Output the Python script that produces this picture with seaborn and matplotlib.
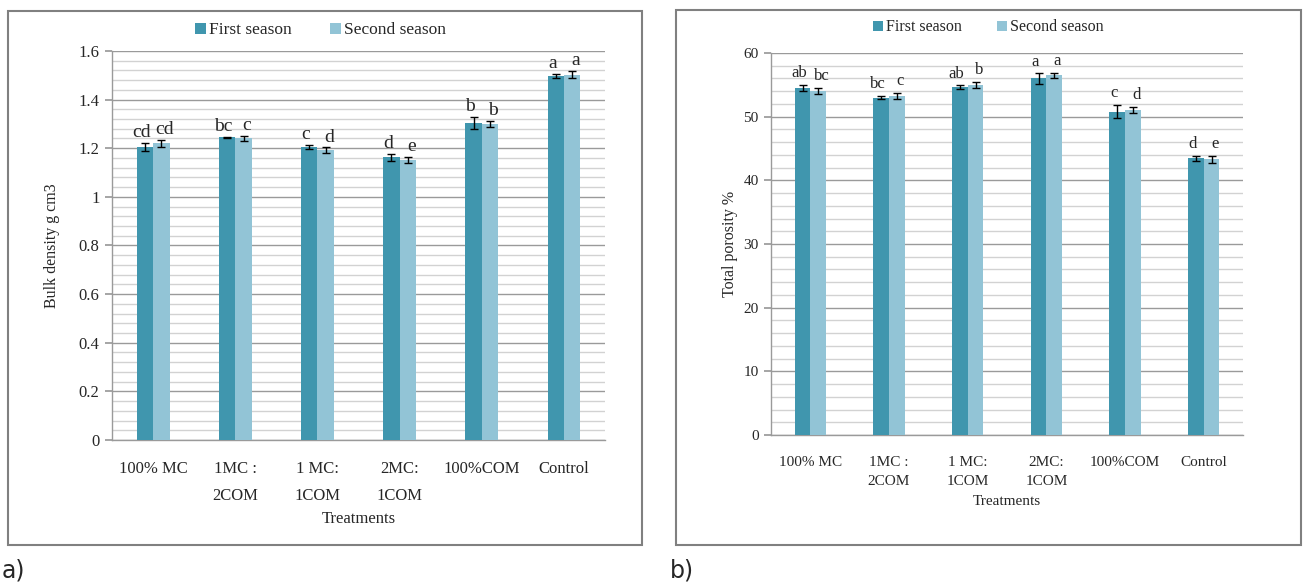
import numpy as np
import pandas as pd
import matplotlib
matplotlib.use("Agg")
import matplotlib.pyplot as plt
from matplotlib.patches import Rectangle
from matplotlib.ticker import MultipleLocator
import seaborn as sns

sns.set_theme(style="white")
plt.rcParams['font.family'] = ['Liberation Serif', 'DejaVu Serif']

# data
treatments = ["100% MC", "1MC :\n2COM", "1 MC:\n1COM", "2MC:\n1COM", "100%COM", "Control"]
seasons = ["First season", "Second season"]

bulk_first = [1.205, 1.245, 1.205, 1.162, 1.305, 1.497]
bulk_second = [1.220, 1.241, 1.192, 1.152, 1.300, 1.502]
bulk_err_first = [0.015, 0.002, 0.010, 0.013, 0.025, 0.010]
bulk_err_second = [0.014, 0.010, 0.011, 0.011, 0.011, 0.015]
bulk_letters_first = ["cd", "bc", "c", "d", "b", "a"]
bulk_letters_second = ["cd", "c", "d", "e", "b", "a"]

por_first = [54.5, 53.0, 54.6, 56.0, 50.8, 43.5]
por_second = [54.0, 53.2, 55.0, 56.5, 51.0, 43.3]
por_err_first = [0.5, 0.2, 0.3, 0.8, 1.0, 0.4]
por_err_second = [0.5, 0.5, 0.5, 0.4, 0.5, 0.6]
por_letters_first = ["ab", "bc", "ab", "a", "c", "d"]
por_letters_second = ["bc", "c", "b", "a", "d", "e"]

colors = ["#4096AE", "#92C4D6"]


def long_df(first, second):
    return pd.DataFrame({
        "Treatment": treatments * 2,
        "Season": [seasons[0]] * 6 + [seasons[1]] * 6,
        "value": list(first) + list(second),
    })


def draw_panel(ax, first, second, err1, err2, let1, let2, ymax, major, minor,
               ylabel, fs, ylab_fs, ylab_pad, letter_fs, letter_off, lsp,
               leg_fs, leg_anchor, fmt):
    df = long_df(first, second)
    sns.barplot(data=df, x="Treatment", y="value", hue="Season",
                palette=colors, width=0.4, errorbar=None, saturation=1,
                linewidth=0, ax=ax, zorder=3)
    bar_groups = list(ax.containers[:2])
    errs = [err1, err2]
    vals = [first, second]
    lets = [let1, let2]
    shift = [-0.04, 0.04]
    for i, cont in enumerate(bar_groups):
        for j, bar in enumerate(cont):
            xc = bar.get_x() + bar.get_width() / 2
            ax.errorbar(xc, vals[i][j], yerr=errs[i][j], color="black",
                        capsize=3, elinewidth=1, capthick=1, zorder=4)
            ax.text(xc + shift[i], vals[i][j] + errs[i][j] + letter_off, lets[i][j],
                    ha="center", va="bottom", fontsize=letter_fs, zorder=5)
    ax.set_ylim(0, ymax)
    ax.set_xlim(-0.5, 5.5)
    ax.yaxis.set_major_locator(MultipleLocator(major))
    ax.yaxis.set_minor_locator(MultipleLocator(minor))
    ax.yaxis.set_major_formatter(plt.FuncFormatter(fmt))
    ax.grid(True, which="major", axis="y", color="#9A9A9A", lw=1.0, zorder=0)
    ax.grid(True, which="minor", axis="y", color="#D2D2D2", lw=1.0, zorder=0)
    ax.set_axisbelow(True)
    for s in ["top", "right"]:
        ax.spines[s].set_visible(False)
    for s in ["left", "bottom"]:
        ax.spines[s].set_color("#9A9A9A")
        ax.spines[s].set_linewidth(1.0)
    ax.tick_params(axis="y", which="major", left=True, length=5, color="#9A9A9A",
                   labelsize=fs, pad=4)
    ax.tick_params(axis="y", which="minor", left=False)
    ax.tick_params(axis="x", bottom=False, labelsize=fs, pad=9)
    ax.set_xticks(range(6))
    ax.set_xticklabels(treatments, linespacing=lsp)
    ax.set_xlabel("Treatments", fontsize=fs, labelpad=5)
    ax.set_ylabel(ylabel, fontsize=ylab_fs, labelpad=ylab_pad)
    ax.set_facecolor("white")
    handles, labels = ax.get_legend_handles_labels()
    ax.legend(handles, labels, loc="center", bbox_to_anchor=leg_anchor,
              bbox_transform=ax.figure.transFigure,
              ncol=2, frameon=False, fontsize=leg_fs, handlelength=0.6,
              handleheight=0.6, handletextpad=0.2, columnspacing=2.2)


fig = plt.figure(figsize=(13.06, 5.85), dpi=100)

# panel frames
fig.patches.append(Rectangle((0.0061, 0.0684), 0.4855, 0.913, transform=fig.transFigure,
                             fill=False, edgecolor="#808080", lw=1.5, zorder=0))
fig.patches.append(Rectangle((0.5176, 0.0684), 0.4786, 0.9145, transform=fig.transFigure,
                             fill=False, edgecolor="#808080", lw=1.5, zorder=0))

ax1 = fig.add_axes([0.0858, 0.2479, 0.3775, 0.665])
ax2 = fig.add_axes([0.5904, 0.2564, 0.3614, 0.653])

draw_panel(ax1, bulk_first, bulk_second, bulk_err_first, bulk_err_second,
           bulk_letters_first, bulk_letters_second, 1.6, 0.2, 0.04,
           "Bulk density g cm3", 12, 11.5, 13, 14, 0.008, 1.95,
           12.5, (0.2455, 0.948),
           lambda v, p: "0" if abs(v) < 1e-9 else ("1" if abs(v - 1) < 1e-9 else f"{v:.1f}"))
draw_panel(ax2, por_first, por_second, por_err_first, por_err_second,
           por_letters_first, por_letters_second, 60, 10, 2,
           "Total porosity %", 11, 11.5, 4, 12, 0.6, 1.6,
           11.5, (0.7567, 0.953),
           lambda v, p: f"{v:.0f}")

fig.text(0.001, 0.025, "a)", fontsize=17, family="DejaVu Sans", va="center")
fig.text(0.513, 0.025, "b)", fontsize=17, family="DejaVu Sans", va="center")

plt.savefig("out.png", dpi=100)
